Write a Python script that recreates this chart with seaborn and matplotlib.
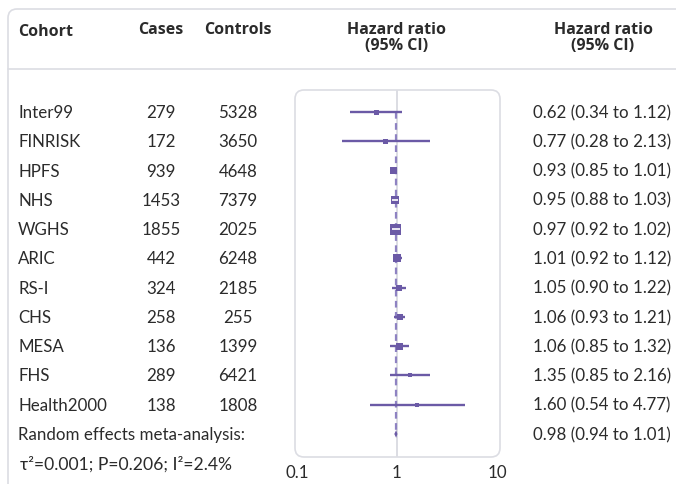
import matplotlib
matplotlib.use("Agg")
import matplotlib.pyplot as plt
import matplotlib.patches as mpatches
import matplotlib.transforms as mtransforms
import seaborn as sns

# data
cohorts = ["Inter99", "FINRISK", "HPFS", "NHS", "WGHS", "ARIC", "RS-I",
           "CHS", "MESA", "FHS", "Health2000"]
cases = [279, 172, 939, 1453, 1855, 442, 324, 258, 136, 289, 138]
controls = [5328, 3650, 4648, 7379, 2025, 6248, 2185, 255, 1399, 6421, 1808]
hr = [0.62, 0.77, 0.93, 0.95, 0.97, 1.01, 1.05, 1.06, 1.06, 1.35, 1.60]
lo = [0.34, 0.28, 0.85, 0.88, 0.92, 0.92, 0.90, 0.93, 0.85, 0.85, 0.54]
hi = [1.12, 2.13, 1.01, 1.03, 1.02, 1.12, 1.22, 1.21, 1.32, 2.16, 4.77]
# square size (px side) ~ study weight
weight = [5, 5, 7, 8, 11, 8, 6, 6, 7, 4, 4]
meta_hr, meta_lo, meta_hi = 0.98, 0.94, 1.01
meta_label = "Random effects meta-analysis:"
meta_stats = "\u03c4\u00b2=0.001; P=0.206; I\u00b2=2.4%"
striped = ["NHS", "WGHS"]

PURPLE = "#6b5aa6"
DASH = "#8e82c2"
GRID = "#dcdde3"
TXT = "#2b2b2b"

sns.set_theme(style="white")
plt.rcParams['font.family'] = ['Lato', 'DejaVu Sans']
plt.rcParams['text.color'] = TXT

W, H = 676, 485
fig = plt.figure(figsize=(W / 100, H / 100), dpi=100)
fig.patch.set_facecolor("white")

# forest panel
ax = fig.add_axes([297 / W, (H - 458) / H, 200 / W, 367 / H])
ax.set_xscale("log")
ax.set_xlim(0.1, 10)
ax.set_ylim(11.786, -0.7516)
for s in ax.spines.values():
    s.set_visible(False)
ax.set_facecolor("none")
ax.set_yticks([])
ax.set_xticks([0.1, 1, 10])
ax.set_xticklabels(["0.1", "1", "10"])
ax.minorticks_off()
ax.tick_params(axis="x", length=0, pad=5, labelsize=12.2, colors=TXT)

rows = list(range(len(cohorts)))
meta_row = len(cohorts)

ax.axvline(1, color=GRID, lw=1.4, zorder=0)
ax.vlines(meta_hr, 0, meta_row, color=DASH, lw=1.6, linestyles=(0, (3, 2)), zorder=1)
ax.hlines(rows, lo, hi, color=PURPLE, lw=1.7, zorder=2)
sizes = [(w / 1.389) ** 2 for w in weight]
sns.scatterplot(x=hr, y=rows, s=sizes, marker="s", color=PURPLE, linewidth=0,
                legend=False, ax=ax, zorder=3)
for i, c in enumerate(cohorts):
    if c in striped:
        ax.plot(hr[i], i, marker="_", ms=weight[i] * 0.7 / 1.389, mew=1.2,
                color="white", zorder=4)
ax.fill([meta_lo, meta_hr, meta_hi, meta_hr],
        [meta_row, meta_row - 0.13, meta_row, meta_row + 0.13],
        color=PURPLE, lw=0, zorder=3)

# boxes and separators
fig.add_artist(mpatches.FancyBboxPatch(
    (2.95, (H - 458) / 100), 2.05, 3.67,
    boxstyle="round,pad=0,rounding_size=0.09", transform=fig.dpi_scale_trans,
    facecolor="none", edgecolor=GRID, lw=1.2, zorder=0))
fig.add_artist(mpatches.FancyBboxPatch(
    (0.08, -0.15), 6.9, 4.9,
    boxstyle="round,pad=0,rounding_size=0.09", transform=fig.dpi_scale_trans,
    facecolor="none", edgecolor=GRID, lw=1.2))
fig.add_artist(plt.Line2D([8 / W, 1], [1 - 70 / H, 1 - 70 / H],
                          transform=fig.transFigure, color=GRID, lw=1.2))

# header
hdr = dict(fontsize=11.5, fontweight="bold", color=TXT,
           family=["Open Sans", "DejaVu Sans"])
fig.text(18 / W, 1 - 31.5 / H, "Cohort", ha="left", va="center", **hdr)
fig.text(161 / W, 1 - 30.5 / H, "Cases", ha="center", va="center", **hdr)
fig.text(238 / W, 1 - 30.5 / H, "Controls", ha="center", va="center", **hdr)
for xc in (397, 603):
    fig.text(xc / W, 1 - 22.5 / H, "Hazard ratio\n(95% CI)", ha="center",
             va="top", linespacing=0.95, multialignment="center", **hdr)

# table columns
tr = mtransforms.blended_transform_factory(fig.transFigure, ax.transData)
body = dict(fontsize=12.2, va="center", color=TXT, transform=tr, clip_on=False)
for i, c in enumerate(cohorts):
    ax.text(18 / W, i, c, ha="left", **body)
    ax.text(161 / W, i, str(cases[i]), ha="center", **body)
    ax.text(238 / W, i, str(controls[i]), ha="center", **body)
    ax.text(533 / W, i, f"{hr[i]:.2f} ({lo[i]:.2f} to {hi[i]:.2f})", ha="left", **body)
ax.text(18 / W, meta_row, meta_label, ha="left", **body)
ax.text(20 / W, meta_row + 1, meta_stats, ha="left", fontsize=12.6,
        va="center", color=TXT, transform=tr, clip_on=False)
ax.text(533 / W, meta_row, f"{meta_hr:.2f} ({meta_lo:.2f} to {meta_hi:.2f})",
        ha="left", **body)

fig.savefig("out.png", dpi=100)
